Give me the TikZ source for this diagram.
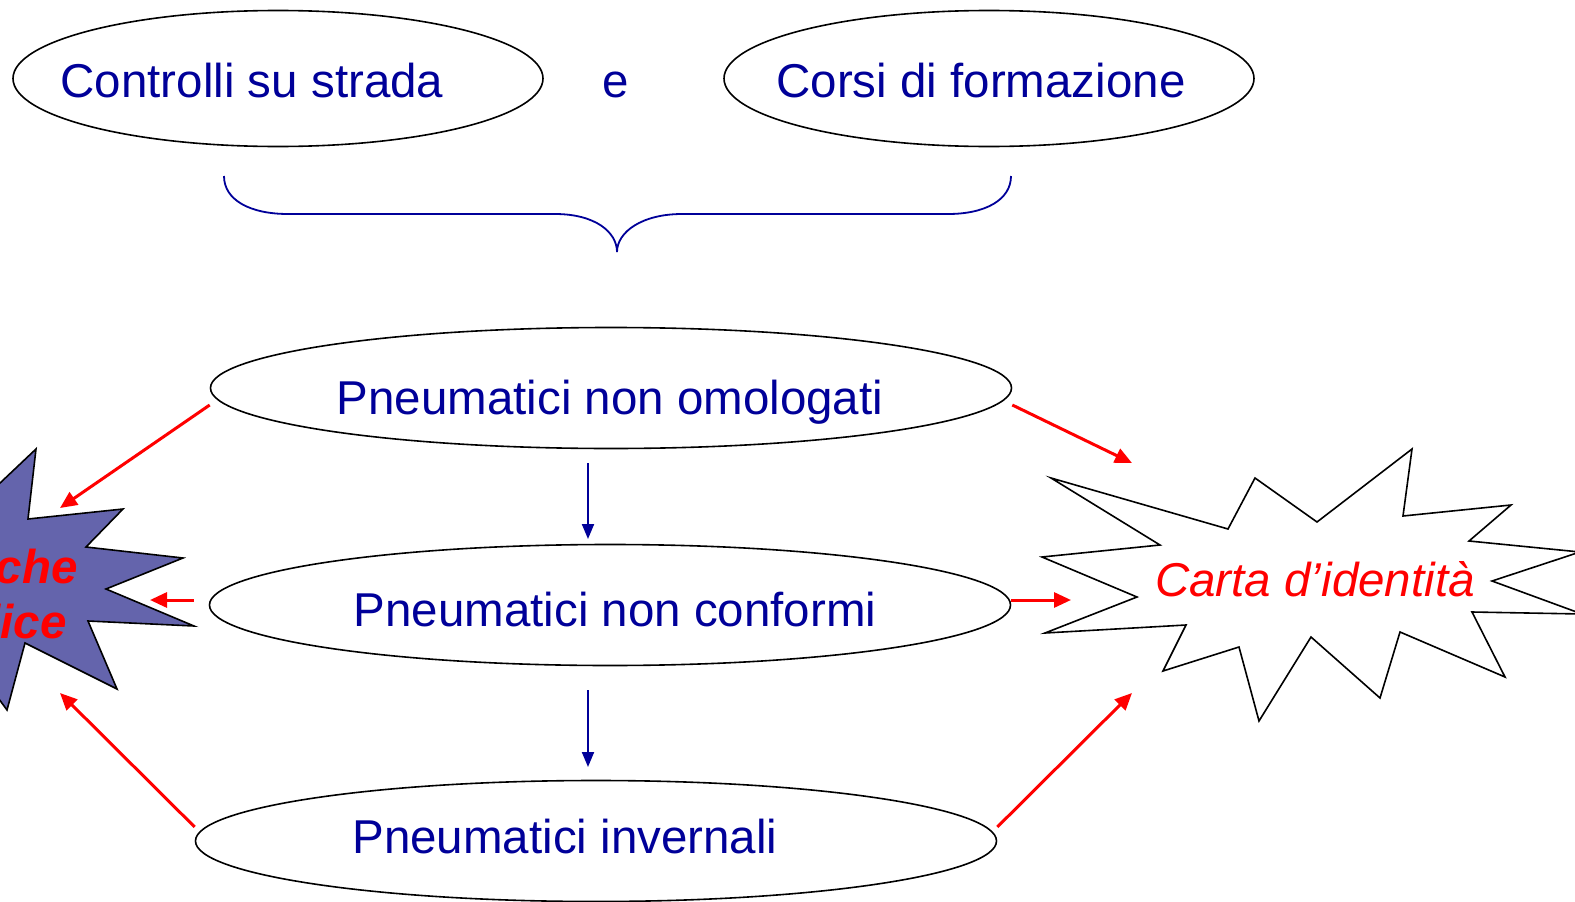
\documentclass[tikz,border=0pt]{standalone}
\usepackage{fontspec}
\setmainfont{Liberation Sans}
\usetikzlibrary{arrows.meta,shapes.geometric}
\definecolor{txtblue}{RGB}{0,0,153}
\definecolor{starfill}{RGB}{100,100,172}
\begin{document}
\begin{tikzpicture}[x=1pt,y=-1pt,
  oval/.style={draw=black,line width=1.6pt,ellipse,inner sep=0pt,minimum width=801pt,minimum height=121pt},
  topoval/.style={draw=black,line width=1.6pt,ellipse,inner sep=0pt,minimum width=530pt,minimum height=136pt},
  label/.style={font=\fontsize{47.5}{55}\selectfont,text=txtblue,anchor=base,inner sep=0pt},
  redarrow/.style={draw=red,line width=3pt,-{Triangle[length=17pt,width=15pt]}},
  bluearrow/.style={draw=txtblue,line width=2pt,-{Triangle[length=15pt,width=12pt]}},
  startext/.style={font=\fontsize{47.5}{55}\selectfont\bfseries\itshape,text=red,anchor=base east,inner sep=0pt},
  idtext/.style={font=\fontsize{47.5}{55}\selectfont\itshape,text=red,anchor=base,inner sep=0pt}]
\useasboundingbox (0,0) rectangle (1575,902);
\clip (0,0) rectangle (1575,902);
\fill[white] (0,0) rectangle (1575,902);

% top ellipses
\node[topoval] (e1) at (278,78.5) {};
\node[topoval] (e2) at (989,78.5) {};
\node[label] (t1) at (252,97) {Controlli su strada};
\node[label] (te) at (616,97) {e};
\node[label] (t2) at (981,97) {Corsi di formazione};

% brace
\draw[txtblue,line width=1.8pt]
  (224,176) .. controls (224,200) and (250,214) .. (288,214) -- (555,214)
  .. controls (595,214) and (617,232) .. (617,252);
\draw[txtblue,line width=1.8pt]
  (1011,176) .. controls (1011,200) and (985,214) .. (948,214) -- (682,214)
  .. controls (642,214) and (617,232) .. (617,252);

% main ellipses
\node[oval] (e3) at (611,388) {};
\node[oval] (e4) at (610,605) {};
\node[oval] (e5) at (596,841) {};
\node[label] (t3) at (610,414) {Pneumatici non omologati};
\node[label] (t4) at (615,626) {Pneumatici non conformi};
\node[label] (t5) at (565,853) {Pneumatici invernali};

% left star
\draw[fill=starfill,draw=black,line width=1.6pt,line join=miter]
  (-20,502) -- (36,449) -- (28,519) -- (123,509) -- (86,547) -- (183,558)
  -- (106,589) -- (194,626) -- (88,621) -- (117,689) -- (25,643) -- (7,710)
  -- (-15,680) -- (-40,600) -- cycle;
\node[startext] (s1) at (78,583) {che};
\node[startext] (s2) at (67,638) {lice};

% right star
\draw[fill=white,draw=black,line width=1.6pt,line join=miter]
  (1051,478) -- (1228,529) -- (1255,478) -- (1317,522) -- (1412,449)
  -- (1403,516) -- (1511,505) -- (1469,541) -- (1580,552) -- (1492,581)
  -- (1582,614) -- (1472,612) -- (1505,677) -- (1400,632) -- (1380,698)
  -- (1311,637) -- (1259,721) -- (1239,647) -- (1163,671) -- (1186,625)
  -- (1045,633) -- (1137,597) -- (1042,557) -- (1160,545) -- cycle;
\node[idtext] (cid) at (1315,596) {Carta d’identità};

% connector free ends
\coordinate (b1s) at (588,463);
\coordinate (b1e) at (588,539);
\coordinate (b2s) at (588,690);
\coordinate (b2e) at (588,767);
\coordinate (l1) at (60,508);
\coordinate (l2) at (150,600);
\coordinate (l3) at (60,693);
\coordinate (r1) at (1132,463);
\coordinate (r2) at (1071,600);
\coordinate (r3) at (1132,693);

% blue arrows
\draw[bluearrow] (b1s) -- (b1e);
\draw[bluearrow] (b2s) -- (b2e);

% red arrows
\draw[redarrow] ([yshift=-17pt]e3.west) -- (l1);
\draw[redarrow] ([xshift=-15pt,yshift=5pt]e4.west) -- (l2);
\draw[redarrow] ([yshift=14pt]e5.west) -- (l3);
\draw[redarrow] ([yshift=-17pt]e3.east) -- (r1);
\draw[redarrow] ([yshift=5pt]e4.east) -- (r2);
\draw[redarrow] ([yshift=14pt]e5.east) -- (r3);
\end{tikzpicture}
\end{document}
